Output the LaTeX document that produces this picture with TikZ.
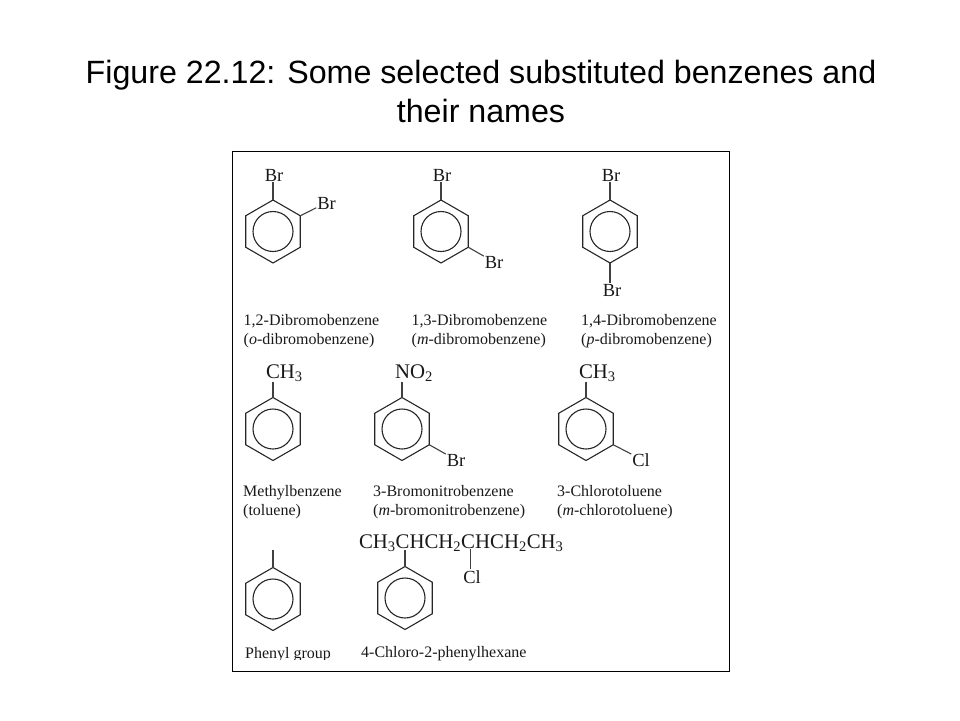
\documentclass[tikz,border=0pt]{standalone}
\usepackage{fontspec}
\setmainfont{Liberation Serif}
\newfontfamily\titlefont{Liberation Sans}
\usetikzlibrary{shapes.geometric}

\tikzset{
  benzring/.style={draw=black!85,line width=1.1pt,regular polygon,regular polygon sides=6,
    shape border rotate=30,minimum size=63pt,inner sep=0pt,outer sep=0pt},
  benzcircle/.style={draw=black!85,line width=1.1pt,circle,minimum size=40pt,inner sep=0pt,outer sep=0pt},
  bond/.style={draw=black!75,line width=1.1pt},
  atom/.style={font=\fontsize{18.5}{18}\selectfont,text=black!90,inner sep=1pt,outer sep=0pt,anchor=base},
  group/.style={atom,font=\fontsize{20.8}{20}\selectfont,anchor=base west},
  caption/.style={font=\fontsize{16}{19}\selectfont,text=black!90,inner sep=0pt,anchor=base west,align=left},
}
\newcommand{\benzene}[2]{\node[benzring] (#1) at #2 {}; \node[benzcircle] (#1c) at #2 {};}

\begin{document}
\begin{tikzpicture}[x=1pt,y=-1pt]
\useasboundingbox (0,0) rectangle (960,720);

\node[font=\titlefont\fontsize{32.2}{39}\selectfont,align=center,inner sep=0pt] (title) at (481,91)
  {Figure 22.12: Some selected substituted benzenes and\\their names};
\node[draw=black,line width=1pt,minimum width=497pt,minimum height=520.5pt,inner sep=0pt,outer sep=0pt] (frame) at (480.5,411.5) {};

% Dibromobenzenes
\benzene{ortho}{(273,231.5)}
\benzene{meta}{(441,231.5)}
\benzene{para}{(610,231.5)}
\node[atom] (orthoA) at (274,181) {Br};
\node[atom] (orthoB) at (326.5,209) {Br};
\node[atom] (metaA) at (442,181) {Br};
\node[atom] (metaB) at (494,268) {Br};
\node[atom] (paraA) at (611,181) {Br};
\node[atom] (paraB) at (612,296) {Br};
\draw[bond] (ortho.90) -- (ortho.90 |- orthoA.south);
\draw[bond] (ortho.30) -- (orthoB.205);
\draw[bond] (meta.90) -- (meta.90 |- metaA.south);
\draw[bond] (meta.-30) -- (metaB.150);
\draw[bond] (para.90) -- (para.90 |- paraA.south);
\draw[bond] (para.-90) -- (para.-90 |- paraB.north);
\node[caption] (orthoName) at (243.5,344) {1,2-Dibromobenzene\\(\textit{o}-dibromobenzene)};
\node[caption] (metaName) at (411.5,344) {1,3-Dibromobenzene\\(\textit{m}-dibromobenzene)};
\node[caption] (paraName) at (581,344) {1,4-Dibromobenzene\\(\textit{p}-dibromobenzene)};

% Second row
\benzene{tol}{(273,429)}
\benzene{nitro}{(402,429)}
\benzene{chloro}{(586,429)}
\node[group] (tolA) at (265,378) {CH\textsubscript{3}};
\node[group] (nitroA) at (394,378) {NO\textsubscript{2}};
\node[group] (chloroA) at (578,378) {CH\textsubscript{3}};
\node[atom] (nitroB) at (456,466) {Br};
\node[atom] (chloroB) at (641,466) {Cl};
\draw[bond] (tol.90) -- (tol.90 |- tolA.south);
\draw[bond] (nitro.90) -- (nitro.90 |- nitroA.south);
\draw[bond] (chloro.90) -- (chloro.90 |- chloroA.south);
\draw[bond] (nitro.-30) -- (nitroB.150);
\draw[bond] (chloro.-30) -- (chloroB.150);
\node[caption] (tolName) at (243,515) {Methylbenzene\\(toluene)};
\node[caption] (nitroName) at (373,515) {3-Bromonitrobenzene\\(\textit{m}-bromonitrobenzene)};
\node[caption] (chloroName) at (557,515) {3-Chlorotoluene\\(\textit{m}-chlorotoluene)};

% Third row
\benzene{phenyl}{(273,599)}
\benzene{hexane}{(405,598)}
\coordinate (phenylEnd) at (273,550);
\draw[bond] (phenyl.90) -- (phenylEnd);
\node[group] (chain) at (358,548) {CH\textsubscript{3}CHCH\textsubscript{2}CHCH\textsubscript{2}CH\textsubscript{3}};
\coordinate (chainA) at (405,550);
\coordinate (chainB) at (470.5,549);
\node[atom] (chainCl) at (472,583) {Cl};
\draw[bond] (hexane.90) -- (chainA);
\draw[bond] (chainB) -- (chainB |- chainCl.north);
\begin{scope}
  \clip (240,640) rectangle (345,659.5); % the descenders are cut off here
  \node[caption] (phenylName) at (245,658) {Phenyl group};
\end{scope}
\node[caption] (hexaneName) at (361,657) {4-Chloro-2-phenylhexane};

\end{tikzpicture}
\end{document}
